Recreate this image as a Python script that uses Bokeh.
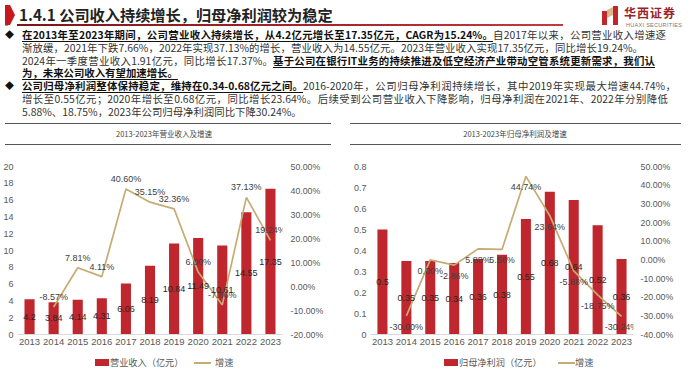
from bokeh.plotting import figure
from bokeh.models import (Range1d, LinearAxis, FixedTicker, PrintfTickFormatter,
                          CustomJSTickFormatter, Div, FactorRange)
from bokeh.layouts import column, row
from bokeh.embed import file_html
from bokeh.resources import INLINE
from bokeh.core.properties import value

# ---------------- data ----------------
years = ["2013", "2014", "2015", "2016", "2017", "2018", "2019", "2020", "2021", "2022", "2023"]
revenue = [4.2, 3.84, 4.14, 4.31, 6.06, 8.19, 10.84, 11.49, 10.61, 14.55, 17.35]
revenue_growth = [None, -8.57, 7.81, 4.11, 40.60, 35.15, 32.36, 6.00, -7.66, 37.13, 19.24]
profit = [0.5, 0.35, 0.35, 0.34, 0.36, 0.38, 0.55, 0.68, 0.64, 0.52, 0.36]
profit_growth = [None, -30.00, 0.00, -2.86, 5.88, 5.56, 44.74, 23.64, -5.88, -18.75, -30.24]

rev_left_ticks = [0, 2, 4, 6, 8, 10, 12, 14, 16, 18, 20]
rev_right_ticks = [-20, -10, 0, 10, 20, 30, 40, 50]
prof_left_ticks = [0, 0.1, 0.2, 0.3, 0.4, 0.5, 0.6, 0.7, 0.8]
prof_right_ticks = [-40, -30, -20, -10, 0, 10, 20, 30, 40, 50]

title_text = "1.4.1 公司收入持续增长，归母净利润较为稳定"
chart1_title = "2013-2023年营业收入及增速"
chart2_title = "2013-2023年归母净利润及增速"
legend1 = ["营业收入（亿元）", "增速"]
legend2 = ["归母净利润（亿元）", "增速"]

# each segment: (text, bold, width in px or None)
para_lines = [
    [("在2013年至2023年期间，公司营业收入持续增长，从4.2亿元增长至17.35亿元，CAGR为15.24%。", True, 471),
     ("自2017年以来，公司营业收入增速逐", False, 173)],
    [("渐放缓，2021年下跌7.66%，2022年实现37.13%的增长，营业收入为14.55亿元。2023年营业收入实现17.35亿元，同比增长19.24%。", False, 621)],
    [("2024年一季度营业收入1.91亿元，同比增长17.37%。", False, 251),
     ("基于公司在银行IT业务的持续推进及低空经济产业带动空管系统更新需求，我们认", True, 382)],
    [("为，未来公司收入有望加速增长。", True, None)],
    [("公司归母净利润整体保持稳定，维持在0.34-0.68亿元之间。", True, 281),
     ("2016-2020年，公司归母净利润持续增长，其中2019年实现最大增速44.74%，", False, 373)],
    [("增长至0.55亿元；2020年增长至0.68亿元，同比增长23.64%。后续受到公司营业收入下降影响，归母净利润在2021年、2022年分别降低", False, 646)],
    [("5.88%、18.75%，2023年公司归母净利润同比下降30.24%。", False, None)],
]
bullet_rows = [0, 4]

# ---------------- style ----------------
BAR = "#C0262D"
LINE = "#C6AB72"
TICK = "#595959"
CJK = "Noto Sans CJK SC"
LAT = "Liberation Sans"

# ---------------- header (HTML) ----------------
HEADER_H = 141
line_tops = [24, 36.8, 49.6, 62.4, 75.2, 88, 100.8]

parts = []
parts.append(f'<div style="position:relative;width:676px;height:{HEADER_H}px;'
             'font-family:\'Noto Sans CJK SC\',sans-serif;color:#333;">')
parts.append('<svg style="position:absolute;left:0;top:0" width="12" height="22">'
             '<polygon points="0,3 3,3 7,12 3,21 0,21" fill="#9a9a9a"/>'
             '<polygon points="0,0 5,0 10,10 5,20 0,20" fill="#C8171E"/></svg>')
parts.append(f'<div style="position:absolute;left:14px;top:1px;font-size:15.2px;line-height:17px;'
             f'font-weight:bold;color:#222;white-space:nowrap;">{title_text}</div>')
parts.append('<div style="position:absolute;left:12px;top:19px;width:546px;height:2px;'
             'background:linear-gradient(to right,#7d1518,#a8262b 60%,#c23b3f);"></div>')
parts.append('<svg style="position:absolute;left:597px;top:1px" width="18" height="19">'
             '<polygon points="0,5 5,5 5,19 0,19" fill="#C0272D"/>'
             '<polygon points="11,0 16,0 16,19 11,19" fill="#C0272D"/>'
             '<polygon points="5,4 11,1 11,9 5,12" fill="#D9B98C"/></svg>')
parts.append('<div style="position:absolute;left:619px;top:2px;font-size:12px;line-height:12px;'
             'font-weight:bold;color:#9b2226;white-space:nowrap;letter-spacing:1px;">华西证券</div>')
parts.append('<div style="position:absolute;left:621px;top:17px;font-size:5.5px;line-height:6px;'
             'color:#777;white-space:nowrap;letter-spacing:0.3px;font-family:\'Liberation Sans\';">HUAXI SECURITIES</div>')
for i, segs in enumerate(para_lines):
    html = ""
    outer = ""
    single_plain = len(segs) == 1 and not segs[0][1]
    for txt, bold, w in segs:
        if single_plain:
            html = txt
            if w:
                outer = f"width:{w}px;text-align:justify;text-align-last:justify;"
            continue
        st = ""
        if bold:
            st += "font-weight:bold;color:#111;text-decoration:underline;text-underline-offset:1.5px;"
        if w is not None:
            st += f"width:{w}px;text-align:justify;text-align-last:justify;"
        html += (f'<span style="display:inline-block;vertical-align:top;height:12px;'
                 f'line-height:12px;white-space:nowrap;{st}">{txt}</span>')
    parts.append(f'<div style="position:absolute;left:17px;top:{line_tops[i]}px;height:12px;'
                 f'line-height:12px;font-size:10.4px;white-space:nowrap;{outer}">{html}</div>')
for r in bullet_rows:
    parts.append(f'<div style="position:absolute;left:0px;top:{line_tops[r]}px;height:12px;'
                 f'line-height:12px;font-size:9px;color:#111;">◆</div>')
for left, width, center, ttl in [(0, 326, 159, chart1_title), (345, 331, 510, chart2_title)]:
    parts.append(f'<div style="position:absolute;left:{left}px;top:118px;width:{width}px;height:1px;background:#555;"></div>')
    parts.append(f'<div style="position:absolute;left:{left}px;top:139px;width:{width}px;height:1px;background:#555;"></div>')
    parts.append(f'<div style="position:absolute;left:{center-80}px;top:123px;width:160px;height:12px;'
                 f'line-height:12px;text-align:center;font-size:7.5px;color:#444;">{ttl}</div>')
parts.append('</div>')
header = Div(text="".join(parts), width=676, height=HEADER_H)

# ---------------- legend row (HTML) ----------------
lg = ['<div style="position:relative;width:676px;height:13px;overflow:hidden;'
      'font-family:\'Noto Sans CJK SC\',sans-serif;font-size:9.2px;line-height:13px;color:#595959;">']
for sw_x, lab_x, ln_x, lab2_x, labels in [(90, 105, 189, 210, legend1), (439, 454, 553, 570, legend2)]:
    lg.append(f'<div style="position:absolute;left:{sw_x}px;top:3px;width:14px;height:7px;background:{BAR};"></div>')
    lg.append(f'<div style="position:absolute;left:{lab_x}px;top:0px;height:13px;white-space:nowrap;">{labels[0]}</div>')
    lg.append(f'<div style="position:absolute;left:{ln_x}px;top:6px;width:17px;height:2px;background:{LINE};"></div>')
    lg.append(f'<div style="position:absolute;left:{lab2_x}px;top:0px;height:13px;white-space:nowrap;">{labels[1]}</div>')
lg.append('</div>')
legend_div = Div(text="".join(lg), width=676, height=13)


def style_axis(ax, size, standoff):
    ax.axis_line_color = None
    ax.major_tick_line_color = None
    ax.minor_tick_line_color = None
    ax.major_tick_out = 0
    ax.major_tick_in = 0
    ax.minor_tick_out = 0
    ax.minor_tick_in = 0
    ax.major_label_text_font = LAT
    ax.major_label_text_font_size = size
    ax.major_label_text_color = TICK
    ax.major_label_standoff = standoff


# ---------------- charts ----------------
def make_chart(vals, growth, lticks, rticks, lfmt, label_offset, mb_left, mb_right, r_standoff):
    p = figure(x_range=FactorRange(*years), y_range=Range1d(lticks[0], lticks[-1]),
               width=338, height=200, output_backend="svg", toolbar_location=None,
               min_border_left=mb_left, min_border_right=mb_right, min_border_top=15,
               min_border_bottom=17, outline_line_color=None)
    p.extra_y_ranges = {"right": Range1d(rticks[0], rticks[-1])}
    p.xgrid.grid_line_color = None
    p.ygrid.grid_line_color = None

    p.vbar(x=years, top=vals, width=0.42, fill_color=BAR, line_color=None)
    gx = [y for y, g in zip(years, growth) if g is not None]
    gy = [g for g in growth if g is not None]
    p.line(x=gx, y=gy, y_range_name="right", line_color=LINE, line_width=1.7)

    p.text(x=years, y=[v / 2 for v in vals], text=[f"{v:g}" for v in vals],
           text_font=value(LAT), text_font_size="9px", text_color="#262626",
           text_align="center", text_baseline="middle")
    p.text(x=gx, y=gy, text=[f"{g:.2f}%" for g in gy], y_range_name="right",
           y_offset=label_offset, text_font=value(LAT), text_font_size="9px",
           text_color="#404040", text_align="center", text_baseline="middle")

    xa = p.xaxis[0]
    style_axis(xa, "9.5px", 4)
    xa.axis_line_color = "#D9D9D9"

    ya = p.yaxis[0]
    ya.ticker = FixedTicker(ticks=lticks)
    if lfmt is not None:
        ya.formatter = lfmt
    style_axis(ya, "9px", 4)

    ra = LinearAxis(y_range_name="right", ticker=FixedTicker(ticks=rticks),
                    formatter=PrintfTickFormatter(format="%.2f%%"))
    style_axis(ra, "8.8px", r_standoff)
    p.add_layout(ra, "right")
    return p


p1 = make_chart(revenue, revenue_growth, rev_left_ticks, rev_right_ticks, None,
                -10, 14, 56, 8)
p2 = make_chart(profit, profit_growth, prof_left_ticks, prof_right_ticks,
                CustomJSTickFormatter(code="return tick == 0 ? '0' : tick.toFixed(1);"),
                11, 32, 41, 7)

layout = column(header, row(p1, p2), legend_div)
open("out.html", "w").write(file_html(layout, INLINE))
